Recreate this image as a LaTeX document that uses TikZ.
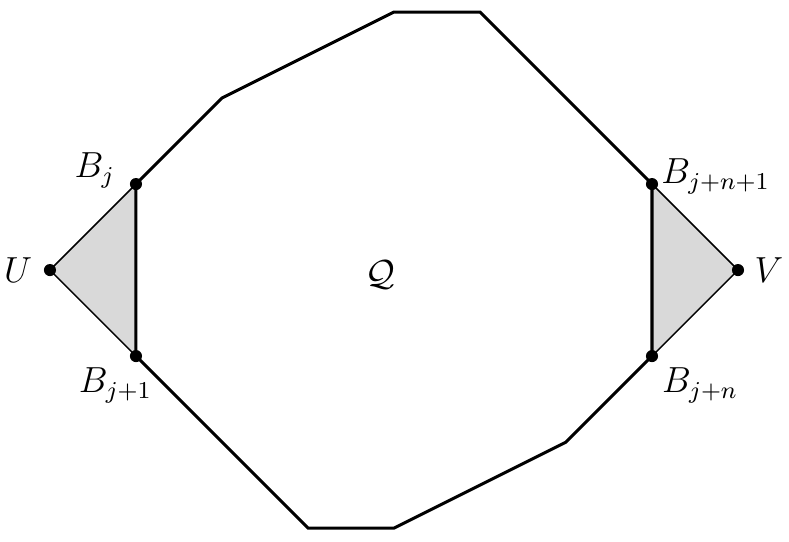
\documentclass[tikz,border=0pt]{standalone}
\begin{document}
\begin{tikzpicture}[x=1cm,y=1cm,
  dot/.style={circle,fill=black,inner sep=0pt,minimum size=4pt},
  edge/.style={line width=1pt,line join=miter},
  thinedge/.style={line width=0.5pt},
  lab/.style={font=\large,inner sep=0pt}]
\useasboundingbox (-0.581,-3.151) rectangle (8.593,3.140);
\coordinate (U) at (0,0);
\coordinate (Bj) at (1,1);
\coordinate (Bj1) at (1,-1);
\coordinate (Bjn1) at (7,1);
\coordinate (Bjn) at (7,-1);
\coordinate (V) at (8,0);
\coordinate (T1) at (2,2);
\coordinate (T2) at (4,3);
\coordinate (T3) at (5,3);
\coordinate (D1) at (3,-3);
\coordinate (D2) at (4,-3);
\coordinate (D3) at (6,-2);
\fill[black!15] (U) -- (Bj) -- (Bj1) -- cycle;
\fill[black!15] (V) -- (Bjn1) -- (Bjn) -- cycle;
\draw[thinedge] (Bj) -- (U) -- (Bj1);
\draw[thinedge] (Bjn1) -- (V) -- (Bjn);
\draw[edge] (Bj1) -- (Bj) -- (T1) -- (T2) -- (T3) -- (Bjn1) -- (Bjn) -- (D3) -- (D2) -- (D1) -- cycle;
\node[dot] (nU) at (U) {};
\node[dot] (nBj) at (Bj) {};
\node[dot] (nBj1) at (Bj1) {};
\node[dot] (nBjn1) at (Bjn1) {};
\node[dot] (nBjn) at (Bjn) {};
\node[dot] (nV) at (V) {};
\node[lab] (lU) at (-0.37,0) {$U$};
\node[lab] (lV) at (8.36,0) {$V$};
\node[lab] (lBj) at (0.52,1.16) {$B_j$};
\node[lab] (lBj1) at (0.76,-1.34) {$B_{j+1}$};
\node[lab] (lBjn1) at (7.74,1.09) {$B_{j+n+1}$};
\node[lab] (lBjn) at (7.56,-1.34) {$B_{j+n}$};
\node[lab] (Q) at (3.84,-0.06) {$\mathcal{Q}$};
\end{tikzpicture}
\end{document}
